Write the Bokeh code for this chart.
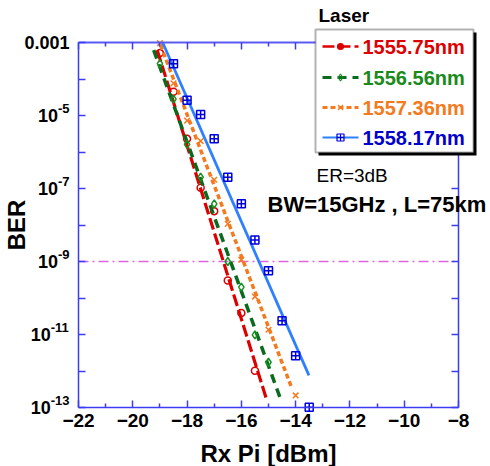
from bokeh.plotting import figure
from bokeh.models import (Range1d, FixedTicker, LinearAxis, LogAxis, Label,
                          BoxAnnotation, CustomJSTickFormatter)
from bokeh.embed import file_html
from bokeh.resources import INLINE

# ---------------- data ----------------
series_names = ["1555.75nm", "1556.56nm", "1557.36nm", "1558.17nm"]

rx_red = [-19.0, -18.5, -18.0, -17.5, -17.0, -16.5, -16.0, -15.5]
log_ber_red = [-3.29, -4.35, -5.64, -6.98, -7.62, -9.52, -10.41, -11.99]

rx_green = [-19.0, -18.5, -18.0, -17.5, -17.0, -16.5, -16.0, -15.5, -15.0]
log_ber_green = [-3.58, -4.55, -5.79, -6.69, -7.42, -9.00, -9.70, -11.01, -11.76]

rx_orange = [-19.0, -18.5, -18.0, -17.5, -17.0, -16.5, -16.0, -15.5, -15.0, -14.0]
log_ber_orange = [-3.02, -4.12, -5.14, -5.70, -6.76, -7.97, -8.95, -9.96, -10.87, -12.67]

rx_blue = [-18.5, -18.0, -17.5, -17.0, -16.5, -16.0, -15.5, -15.0, -14.5, -14.0, -13.5]
log_ber_blue = [-3.58, -4.58, -4.97, -5.64, -6.69, -7.42, -8.41, -9.25, -10.62, -11.58, -12.99]

# linear fit lines (end points)
fit_rx_red = [-19.10, -15.08]
fit_log_red = [-3.21, -12.76]
fit_rx_green = [-19.23, -14.56]
fit_log_green = [-3.21, -12.76]
fit_rx_orange = [-18.98, -14.15]
fit_log_orange = [-3.07, -12.45]
fit_rx_blue = [-18.90, -13.51]
fit_log_blue = [-3.0, -12.12]

x_major = [-22, -20, -18, -16, -14, -12, -10, -8]
x_minor = [-21, -19, -17, -15, -13, -11, -9]
y_decades = list(range(-13, -2))          # ticks at every decade
y_label_decades = [-13, -11, -9, -7, -5]  # labelled as 10^k
ber_limit = 1e-9

annot_er = "ER=3dB"
annot_bw = "BW=15GHz , L=75km"
legend_title = "Laser"

# ---------------- styling / layout ----------------
FONT = "Liberation Sans"
AXIS_COLOR = "#3c3cf2"
W, H = 490, 466
FL, FR, FT, FB = 78, 458, 42, 407     # axis box in pixels
X0, X1 = -22, -8
L0, L1 = -13, -3

def px_x(px):
    return X0 + (px - FL) / (FR - FL) * (X1 - X0)

def px_y(py):
    return 10 ** (L1 - (py - FT) / (FB - FT) * (L1 - L0))

# the plotting frame covers the whole canvas; the axes are pinned with fixed_location
p = figure(width=W, height=H, x_range=Range1d(px_x(0), px_x(W)),
           y_range=Range1d(px_y(H), px_y(0)),
           y_axis_type="log", output_backend="svg", toolbar_location=None,
           min_border=0, min_border_left=0, min_border_right=0, min_border_top=0,
           min_border_bottom=0)
p.outline_line_color = None
p.grid.visible = False
p.background_fill_color = "white"
p.border_fill_color = "white"

empty_fmt = CustomJSTickFormatter(code="return ''")

def style_axis(ax, width=1.5):
    ax.axis_line_color = AXIS_COLOR
    ax.axis_line_width = width
    ax.major_tick_line_color = AXIS_COLOR
    ax.minor_tick_line_color = AXIS_COLOR
    ax.major_tick_line_width = 1.5
    ax.minor_tick_line_width = 1.5
    ax.major_tick_in = 7
    ax.major_tick_out = 0
    ax.minor_tick_in = 4
    ax.minor_tick_out = 0

x_ticker = FixedTicker(ticks=x_major, minor_ticks=x_minor)
y_ticker = FixedTicker(ticks=[10.0**k for k in y_decades], minor_ticks=[])

# bottom axis
xa = p.xaxis[0]
xa.ticker = x_ticker
xa.fixed_location = 10.0**L0
xa.bounds = (X0, X1)
style_axis(xa)
xa.major_label_text_font = FONT
xa.major_label_text_font_style = "bold"
xa.major_label_text_font_size = "19px"
xa.major_label_text_color = "black"
xa.major_label_standoff = 6
xa.axis_label = "Rx Pi [dBm]"
xa.axis_label_text_font = FONT
xa.axis_label_text_font_style = "bold"
xa.axis_label_text_font_size = "24px"
xa.axis_label_text_color = "black"
xa.axis_label_standoff = 10

# left axis
ya = p.yaxis[0]
ya.ticker = y_ticker
ya.formatter = empty_fmt
ya.fixed_location = X0
ya.bounds = (10.0**L0, 10.0**L1)
style_axis(ya)
ya.major_label_standoff = 0
ya.axis_label = "BER"
ya.axis_label_text_font = FONT
ya.axis_label_text_font_style = "bold"
ya.axis_label_text_font_size = "24px"
ya.axis_label_text_color = "black"
ya.axis_label_standoff = 49

# top and right axes (ticks only)
top = LinearAxis(ticker=x_ticker, formatter=empty_fmt, fixed_location=10.0**L1,
                 bounds=(X0, X1))
style_axis(top, 2)
top.axis_line_color = "#5a5af5"
top.major_label_standoff = 0
p.add_layout(top, "above")
right = LogAxis(ticker=y_ticker, formatter=empty_fmt, fixed_location=X1,
                bounds=(10.0**L0, 10.0**L1))
style_axis(right)
right.major_label_standoff = 0
p.add_layout(right, "right")

# y tick labels with superscripts
CW = {"-": 0.333, "0": 0.556, "1": 0.556, "2": 0.556, "3": 0.556, "5": 0.556,
      "7": 0.556, "9": 0.556}
for k in y_label_decades:
    sup = str(k)
    sup_w = 13 * sum(CW[c] for c in sup) + 1
    p.add_layout(Label(x=X0, y=10.0**k, text="10", x_offset=-(8 + sup_w), text_align="right",
                       text_baseline="middle", text_font=FONT, text_font_style="bold",
                       text_font_size="18px", text_color="black"))
    p.add_layout(Label(x=X0, y=10.0**k, text=sup, x_offset=-(8 + sup_w), y_offset=7,
                       text_align="left", text_baseline="middle", text_font=FONT,
                       text_font_style="bold", text_font_size="13px", text_color="black"))
p.add_layout(Label(x=X0, y=10.0**L1, text="0.001", x_offset=-9, text_align="right",
                   text_baseline="middle", text_font=FONT, text_font_style="bold",
                   text_font_size="18px", text_color="black"))

# BER limit line across the axis box
p.line([X0, X1], [ber_limit, ber_limit], line_color="#dd66dd", line_width=1.4,
       line_dash="10 4 2 4")

styles = [
    dict(color="#dd0000", mcolor="#dd0000", dash="12 4", lw=3.2, marker="circle", size=7),
    dict(color="#0a6a1e", mcolor="#14901e", dash="9 6", lw=3.5, marker="diamond", size=8),
    dict(color="#f47a20", mcolor="#f47a20", dash="5 3", lw=3.5, marker="x", size=8),
    dict(color="#2f80ff", mcolor="#0000dd", dash="solid", lw=2.8, marker="square_cross", size=8),
]
text_colors = ["#dd0000", "#1a8a1a", "#f47a20", "#0000cc"]

rx_all = [rx_red, rx_green, rx_orange, rx_blue]
ber_all = [log_ber_red, log_ber_green, log_ber_orange, log_ber_blue]
fit_rx_all = [fit_rx_red, fit_rx_green, fit_rx_orange, fit_rx_blue]
fit_log_all = [fit_log_red, fit_log_green, fit_log_orange, fit_log_blue]

for rx, lb, frx, flb, st in zip(rx_all, ber_all, fit_rx_all, fit_log_all, styles):
    p.line(list(frx), [10.0**v for v in flb], line_color=st["color"], line_width=st["lw"],
           line_dash=st["dash"])
    p.scatter(rx, [10.0**v for v in lb], marker=st["marker"], size=st["size"],
              line_color=st["mcolor"], fill_color=None, line_width=1.5)

# ---------------- legend (drawn by hand) ----------------
LG_L, LG_R, LG_T, LG_B = 315, 473, 29, 152
SH = 3
p.add_layout(BoxAnnotation(left=px_x(LG_L + SH), right=px_x(LG_R + SH), top=px_y(LG_T + SH),
                           bottom=px_y(LG_B + SH), fill_color="black", fill_alpha=1,
                           line_color=None, level="annotation"))
p.add_layout(BoxAnnotation(left=px_x(LG_L), right=px_x(LG_R), top=px_y(LG_T),
                           bottom=px_y(LG_B), fill_color="white", fill_alpha=1,
                           line_color="black", line_width=2, level="annotation"))
p.add_layout(Label(x=px_x(318), y=px_y(15), text=legend_title, text_align="left",
                   text_baseline="middle", text_font=FONT, text_font_style="bold",
                   text_font_size="19px", text_color="black"))
row_y = [46, 77, 107, 137]
for name, ry, st, tc in zip(series_names, row_y, styles, text_colors):
    yv = px_y(ry)
    p.line([px_x(322), px_x(358)], [yv, yv], line_color=st["color"], line_width=st["lw"] - 0.6,
           line_dash=st["dash"], level="overlay")
    p.scatter([px_x(340)], [yv], marker=st["marker"], size=st["size"] - 1,
              line_color=st["mcolor"], fill_color=st["color"] if st["marker"] == "circle" else None,
              line_width=1.2, level="overlay")
    p.add_layout(Label(x=px_x(362), y=yv, text=name, text_align="left", text_baseline="middle",
                       text_font=FONT, text_font_style="bold", text_font_size="20px",
                       text_color=tc, level="overlay"))

p.add_layout(Label(x=px_x(316), y=px_y(175), text=annot_er, text_align="left",
                   text_baseline="middle", text_font=FONT, text_font_size="19px",
                   text_color="black"))
p.add_layout(Label(x=px_x(267), y=px_y(204), text=annot_bw, text_align="left",
                   text_baseline="middle", text_font=FONT, text_font_style="bold",
                   text_font_size="22px", text_color="black"))

open("out.html", "w").write(file_html(p, INLINE))
